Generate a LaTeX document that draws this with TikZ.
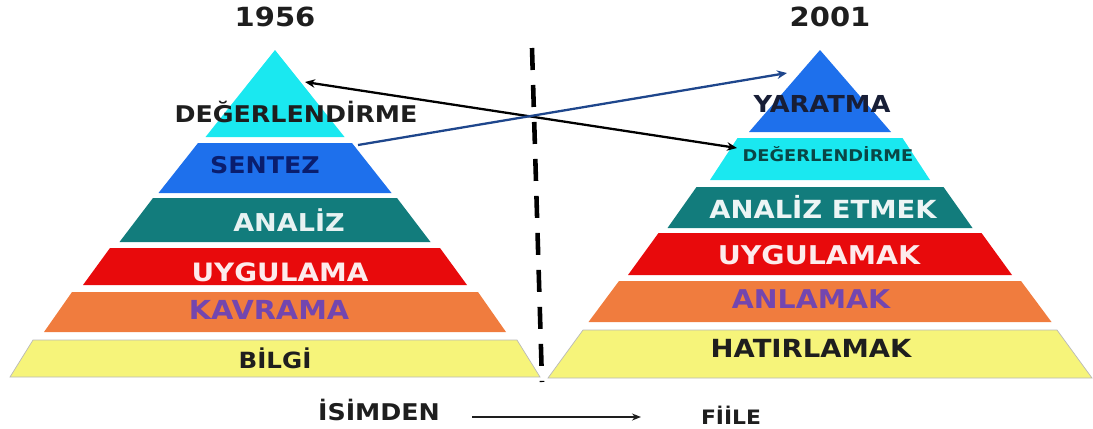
\documentclass[tikz,border=0pt]{standalone}
\usepackage{fontspec}
\usepackage{tikz}
\usetikzlibrary{arrows.meta}
\newfontfamily\pyrfont{DejaVu Sans}[FakeStretch=1.1]
\definecolor{evalcyan}{RGB}{26,232,240}
\definecolor{synblue}{RGB}{30,112,236}
\definecolor{anateal}{RGB}{18,124,124}
\definecolor{appred}{RGB}{232,10,12}
\definecolor{compor}{RGB}{240,124,62}
\definecolor{knowyel}{RGB}{246,244,122}
\definecolor{labpurple}{RGB}{115,70,175}
\definecolor{labnavy}{RGB}{10,30,110}
\definecolor{labdark}{RGB}{30,30,30}
\definecolor{labteal}{RGB}{10,70,70}
\definecolor{linkblue}{RGB}{30,70,140}

\begin{document}
\begin{tikzpicture}[
    lbl/.style={font=\pyrfont\bfseries\fontsize{#1}{#1}\selectfont, inner sep=0pt, text depth=0pt},
    yelband/.style={fill=knowyel, draw=gray!55, line width=0.4pt}
]
    \useasboundingbox (0,0) rectangle (21.86,8.56);

    % 1956 pyramid
    \fill[evalcyan] (5.5,7.56) -- (6.89,5.82) -- (4.11,5.82) -- cycle;
    \fill[synblue] (3.96,5.70) -- (7.04,5.70) -- (7.83,4.70) -- (3.17,4.70) -- cycle;
    \fill[anateal] (3.06,4.60) -- (7.94,4.60) -- (8.61,3.72) -- (2.39,3.72) -- cycle;
    \fill[appred] (2.20,3.60) -- (8.80,3.60) -- (9.34,2.86) -- (1.66,2.86) -- cycle;
    \fill[compor] (1.44,2.72) -- (9.56,2.72) -- (10.12,1.92) -- (0.88,1.92) -- cycle;
    \filldraw[yelband] (0.66,1.76) -- (10.34,1.76) -- (10.80,1.02) -- (0.20,1.02) -- cycle;

    \node[lbl=15, labdark] (y1956) at (5.5,8.22) {1956};
    \node[lbl=13.1, labdark] (deg1) at (5.92,6.32) {DEĞERLENDİRME};
    \node[lbl=13.1, labnavy] (sentez) at (5.3,5.26) {SENTEZ};
    \node[lbl=14, white!90!anateal] (analiz1) at (5.78,4.16) {ANALİZ};
    \node[lbl=14.4, white!92!appred] (uyg1) at (5.6,3.12) {UYGULAMA};
    \node[lbl=14.9, labpurple] (kavrama) at (5.38,2.36) {KAVRAMA};
    \node[lbl=12.7, labdark] (bilgi) at (5.5,1.40) {BİLGİ};

    % 2001 pyramid
    \fill[synblue] (16.4,7.56) -- (17.82,5.92) -- (14.98,5.92) -- cycle;
    \fill[evalcyan] (14.75,5.80) -- (18.05,5.80) -- (18.60,4.96) -- (14.20,4.96) -- cycle;
    \fill[anateal] (13.93,4.82) -- (18.87,4.82) -- (19.45,4.00) -- (13.35,4.00) -- cycle;
    \fill[appred] (13.17,3.90) -- (19.63,3.90) -- (20.24,3.06) -- (12.56,3.06) -- cycle;
    \fill[compor] (12.38,2.94) -- (20.42,2.94) -- (21.03,2.12) -- (11.77,2.12) -- cycle;
    \filldraw[yelband] (11.66,1.96) -- (21.14,1.96) -- (21.84,1.00) -- (10.96,1.00) -- cycle;

    \node[lbl=15, labdark] (y2001) at (16.6,8.22) {2001};
    \node[lbl=13.3, labdark!70!labnavy] (yaratma) at (16.44,6.48) {YARATMA};
    \node[lbl=9.2, labteal] (deg2) at (16.56,5.48) {DEĞERLENDİRME};
    \node[lbl=14.2, white!92!anateal] (analiz2) at (16.46,4.42) {ANALİZ ETMEK};
    \node[lbl=14.7, white!92!appred] (uyg2) at (16.38,3.46) {UYGULAMAK};
    \node[lbl=14.7, labpurple] (anlamak) at (16.22,2.58) {ANLAMAK};
    \node[lbl=14.2, labdark] (hatir) at (16.22,1.60) {HATIRLAMAK};

    % Divider
    \coordinate (divtop) at (10.64,7.60);
    \coordinate (divbot) at (10.84,0.92);
    \draw[line width=2.6pt, dash pattern=on 0.44cm off 0.3cm] (divtop) -- (divbot);

    % Links between the two pyramids
    \coordinate (oldeval) at (6.1,6.92);
    \coordinate (neweval) at (14.74,5.6);
    \coordinate (oldsyn) at (7.16,5.66);
    \coordinate (newcreate) at (15.74,7.1);
    \draw[line width=1.3pt, {Stealth[length=2mm,width=1.7mm]}-{Stealth[length=2mm,width=1.7mm]}] (oldeval) -- (neweval);
    \draw[line width=1.3pt, linkblue, -{Stealth[length=2mm,width=1.7mm]}] (oldsyn) -- (newcreate);

    % Noun to verb
    \node[lbl=13.1, labdark] (isim) at (7.58,0.36) {İSİMDEN};
    \node[lbl=11.3, labdark] (fiil) at (14.62,0.26) {FİİLE};
    \coordinate (nvstart) at (9.44,0.22);
    \coordinate (nvend) at (12.82,0.22);
    \draw[line width=0.9pt, labdark, -{Stealth[length=1.8mm,width=1.4mm]}] (nvstart) -- (nvend);

\end{tikzpicture}
\end{document}
